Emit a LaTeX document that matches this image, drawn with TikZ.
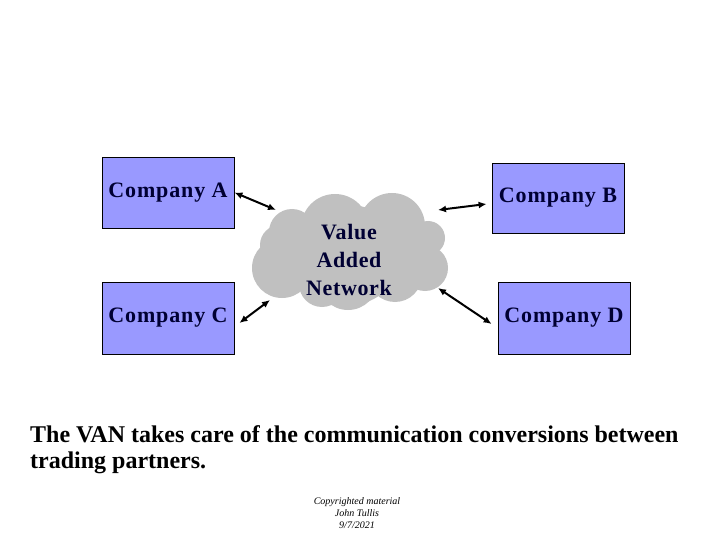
\documentclass[tikz,border=0pt]{standalone}
\usepackage{fontspec}
\setmainfont{Liberation Serif}
\usetikzlibrary{arrows.meta}
\definecolor{boxfill}{RGB}{153,153,255}
\definecolor{boxtext}{RGB}{0,0,51}
\definecolor{cloudgray}{RGB}{192,192,192}
\tikzset{
  company/.style={draw=black, line width=0.8pt, fill=boxfill, minimum width=132pt, minimum height=71pt, inner sep=0pt,
    font=\fontsize{22}{26}\selectfont\bfseries\addfontfeature{LetterSpace=4}, text=boxtext},
  link/.style={line width=2pt, {Latex[length=8pt,width=7pt]}-{Latex[length=8pt,width=7pt]}},
  cloudpart/.style={fill=cloudgray, draw=none}
}
\begin{document}
\begin{tikzpicture}[x=1pt,y=-1pt]
\useasboundingbox (0,0) rectangle (720,540);
% cloud
\foreach \cx/\cy/\r in {292/232/23, 335/228/34, 392/226/33, 428/238/17, 425/268/23, 395/275/27, 348/280/30, 282/268/30, 280/245/20, 350/255/50, 395/255/40, 322/284/23}
  \fill[cloudpart] (\cx,\cy) circle[radius=\r];
\node[font=\fontsize{22}{28}\selectfont\bfseries\addfontfeature{LetterSpace=3}, text=boxtext, align=center, inner sep=0pt] (V) at (349,260) {Value\\Added\\Network};
% companies
\node[company] (A) at (168,192.5) {Company A};
\node[company, minimum height=70pt] (B) at (558,198) {Company B};
\node[company, minimum height=72pt] (C) at (168,318) {Company C};
\node[company, minimum height=72pt] (D) at (564,318) {Company D};
% cloud edge points
\coordinate (cA) at (276,210);
\coordinate (cB) at (438,210);
\coordinate (cC) at (270,300);
\coordinate (cD) at (438,288);
\draw[link] (A.east) -- (cA);
\draw[link] (cB) -- ([xshift=-5pt,yshift=-6pt]B.west);
\draw[link] ([xshift=5pt,yshift=-5pt]C.east) -- (cC);
\draw[link] (cD) -- ([xshift=-6pt,yshift=-6pt]D.west);
% caption
\node[anchor=north west, inner sep=0pt, align=left, font=\fontsize{24}{26}\selectfont\bfseries] (T) at (30,425.5)
  {The VAN takes care of the communication conversions between\\trading partners.};
\node[inner sep=0pt, align=center, font=\fontsize{10}{12}\selectfont\itshape] (R) at (357,513)
  {Copyrighted material\\John Tullis\\9/7/2021};
\end{tikzpicture}
\end{document}
